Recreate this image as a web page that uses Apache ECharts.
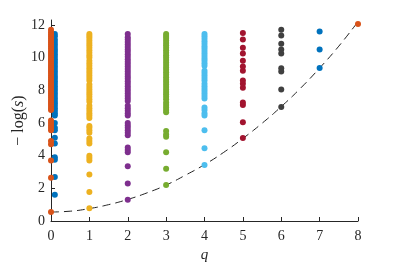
<!DOCTYPE html>
<html>
<head>
<meta charset="utf-8">
<script src="https://cdn.jsdelivr.net/npm/echarts@6/dist/echarts.min.js"></script>
<style>
html,body{margin:0;padding:0;background:#fff;}
#c{width:395px;height:263px;}
</style>
</head>
<body>
<div id="c"></div>
<script>
// ---- data ----
var xTicks = [0,1,2,3,4,5,6,7,8];
var yTicks = [0,2,4,6,8,10,12];

// q = 0 (orange, on the axis)
var q0Orange = [0.55,2.65,3.7,4.7,4.9,5.55,5.7,5.85,6.0,6.15,
  6.8,6.92,7.05,7.18,7.3,7.42,7.55,7.68,7.8,7.92,8.05,8.18,8.3,8.42,8.55,8.68,8.8,8.92,
  9.05,9.18,9.3,9.42,9.55,9.68,9.8,9.92,10.05,10.18,10.3,10.42,10.55,10.68,10.8,10.92,
  11.05,11.18,11.3,11.42,11.55,11.7];
// q = 0 (blue, slightly offset)
var q0Blue = [1.6,2.7,3.75,3.9,4.75,5.1,5.55,5.7,6.0,
  6.45,6.6,6.75,6.9,7.05,7.2,7.35,7.5,7.65,7.8,7.95,8.1,8.25,8.4,8.55,8.7,8.85,9.0,
  9.15,9.3,9.45,9.6,9.75,9.9,10.05,10.2,10.35,10.5,10.65,10.8,10.95,11.1,11.3,11.45];
var q1 = [0.78,1.78,2.85,3.7,3.85,4.0,4.75,4.9,5.05,5.4,5.55,5.7,5.82,
  6.3,6.45,6.6,6.75,6.9,7.05,7.3,7.45,7.6,7.75,7.9,8.05,8.2,8.35,8.6,8.75,8.9,9.05,
  9.2,9.35,9.5,9.65,9.8,10.0,10.15,10.3,10.45,10.6,10.75,10.9,11.05,11.2,11.32,11.45];
var q2 = [1.3,2.3,3.35,4.2,4.35,4.5,5.25,5.4,5.55,5.7,5.85,6.0,
  6.45,6.6,6.75,6.9,7.05,7.35,7.5,7.65,7.8,7.95,8.1,8.25,8.4,8.55,8.7,8.85,9.0,
  9.15,9.3,9.45,9.6,9.75,9.9,10.05,10.2,10.35,10.5,10.65,10.8,10.95,11.1,11.25,11.45];
var q3 = [2.2,3.2,4.2,5.15,5.3,5.5,6.65,6.8,6.95,7.1,7.25,7.45,7.6,7.75,7.9,
  8.05,8.2,8.35,8.5,8.65,8.8,8.95,9.1,9.25,9.4,9.55,9.7,9.85,10.0,10.15,10.3,
  10.45,10.6,10.75,10.9,11.05,11.2,11.32,11.45];
var q4 = [3.43,4.45,5.55,6.45,6.6,6.8,6.95,7.5,7.65,7.8,7.95,8.1,8.25,8.4,
  8.6,8.75,8.9,9.05,9.2,9.5,9.65,9.8,9.95,10.1,10.25,10.4,10.55,10.7,10.85,11.0,
  11.15,11.3,11.45];
var q5 = [5.08,6.05,7.1,7.25,8.15,8.4,8.6,9.2,9.45,9.8,10.25,10.6,11.1,11.5];
var q6 = [6.98,8.05,9.15,9.35,10.25,10.5,10.85,11.35,11.7];
var q7 = [9.36,10.5,11.6];
var q8 = [12.06];

// dashed bound curve
var curveQ = [0,0.5,1,1.5,2,2.5,3,3.5,4,4.5,5,5.5,6,6.5,7,7.5,8];
var curveV = [0.55,0.6,0.76,1.0,1.32,1.72,2.2,2.8,3.45,4.2,5.05,5.98,7.0,8.12,9.36,10.7,12.2];

// ---- build ----
function pts(q, arr){ return arr.map(function(v){ return [q, v]; }); }
var groups = [
  {q:0.1, d:q0Blue, c:'#0072BD'},
  {q:0, d:q0Orange, c:'#D95319'},
  {q:1, d:q1, c:'#EDB120'},
  {q:2, d:q2, c:'#7E2F8E'},
  {q:3, d:q3, c:'#77AC30'},
  {q:4, d:q4, c:'#4DBEEE'},
  {q:5, d:q5, c:'#A2142F'},
  {q:6, d:q6, c:'#404040'},
  {q:7, d:q7, c:'#0072BD'},
  {q:8, d:q8, c:'#D95319'}
];
var series = [{
  type:'line', data: curveQ.map(function(q,i){return [q, curveV[i]];}),
  smooth:true, symbol:'none', silent:true, clip:false, z:1,
  lineStyle:{color:'#222', width:1, type:[8,5]}
}];
groups.forEach(function(g){
  series.push({type:'scatter', data:pts(g.q,g.d), symbolSize:6, clip:false, z:3,
    itemStyle:{color:g.c, opacity:1}});
});

var font = 'Liberation Serif';
var chart = echarts.init(document.getElementById('c'), null, {renderer:'canvas'});
chart.setOption({
  animation:false,
  backgroundColor:'#fff',
  grid:{left:51, right:37, top:20, bottom:42, containLabel:false, outerBoundsMode:'none'},
  xAxis:{
    type:'value', min:0, max:8, interval:1,
    name:'q', nameLocation:'middle', nameGap:27, nameMoveOverlap:false,
    nameTextStyle:{fontFamily:font, fontSize:15, fontStyle:'italic', color:'#262626'},
    axisLine:{show:true, onZero:false, lineStyle:{color:'#262626', width:1}},
    axisTick:{show:true, inside:true, length:4, lineStyle:{color:'#262626'}},
    axisLabel:{fontFamily:font, fontSize:14, color:'#262626', margin:8},
    splitLine:{show:false}
  },
  yAxis:{
    type:'value', min:0, max:12.3,
    name:'{a|− log(}{b|s}{a|)}', nameLocation:'middle', nameGap:24, nameRotate:90,
    nameMoveOverlap:false,
    nameTextStyle:{rich:{
      a:{fontFamily:font, fontSize:16, color:'#262626'},
      b:{fontFamily:font, fontSize:16, fontStyle:'italic', color:'#262626'}}},
    axisLine:{show:true, onZero:false, lineStyle:{color:'#262626', width:1}},
    axisTick:{show:true, inside:true, length:4, customValues:yTicks, lineStyle:{color:'#262626'}},
    axisLabel:{fontFamily:font, fontSize:14, color:'#262626', margin:6, customValues:yTicks},
    splitLine:{show:false}
  },
  series:series
});
</script>
</body>
</html>
